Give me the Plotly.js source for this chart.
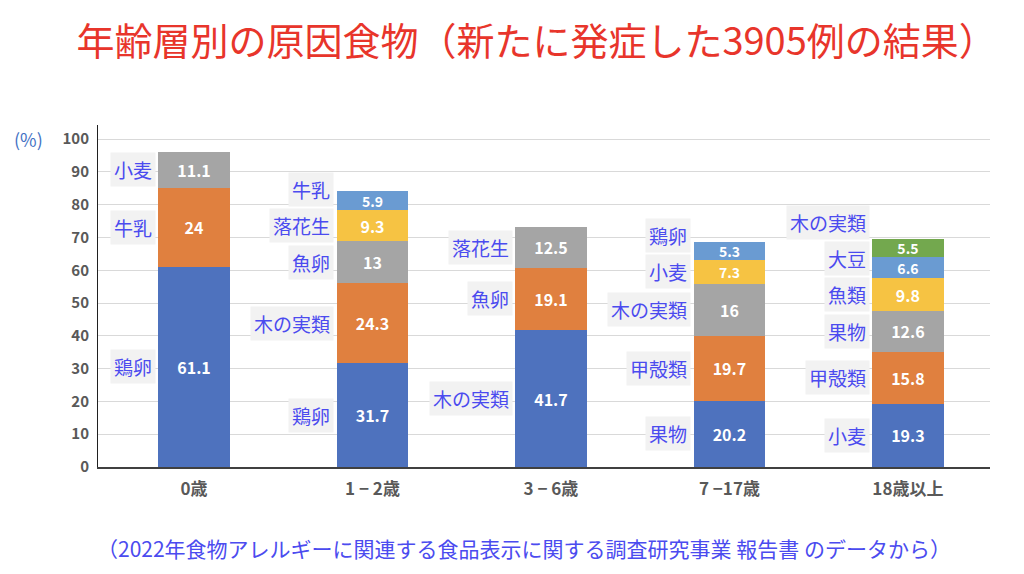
<!DOCTYPE html>
<html><head><meta charset="utf-8">
<script src="https://cdn.plot.ly/plotly-3.0.1.min.js"></script>
<style>html,body{margin:0;padding:0;background:#fff;}#chart{width:1024px;height:574px;}</style>
</head><body><div id="chart"></div>
<script>
const categories = ['0歳', '1 − 2歳', '3 − 6歳', '7 −17歳', '18歳以上'];

const layer1 = [61.1, 31.7, 41.7, 20.2, 19.3];
const foods1 = ['鶏卵', '鶏卵', '木の実類', '果物', '小麦'];
const layer2 = [24, 24.3, 19.1, 19.7, 15.8];
const foods2 = ['牛乳', '木の実類', '魚卵', '甲殻類', '甲殻類'];
const layer3 = [11.1, 13, 12.5, 16, 12.6];
const foods3 = ['小麦', '魚卵', '落花生', '木の実類', '果物'];
const layer4 = [null, 9.3, null, 7.3, 9.8];
const foods4 = [null, '落花生', null, '小麦', '魚類'];
const layer5 = [null, 5.9, null, 5.3, 6.6];
const foods5 = [null, '牛乳', null, '鶏卵', '大豆'];
const layer6 = [null, null, null, null, 5.5];
const foods6 = [null, null, null, null, '木の実類'];

const layers = [layer1, layer2, layer3, layer4, layer5, layer6];
const foods = [foods1, foods2, foods3, foods4, foods5, foods6];
const colors = ['#4e72be', '#e0803f', '#a5a5a5', '#f6c343', '#6a9bd2', '#73a84e'];

const FONT = '"Noto Sans CJK JP", "Noto Sans", sans-serif';

const traces = layers.map((vals, k) => ({
  type: 'bar',
  x: categories,
  y: vals,
  width: 0.4,
  marker: {color: colors[k], line: {width: 0}},
  text: vals.map(v => v == null ? '' : String(v)),
  textposition: 'inside',
  insidetextanchor: 'middle',
  constraintext: 'none',
  cliponaxis: false,
  textfont: {family: FONT, size: vals.map(v => (v != null && v < 8) ? 14 : 16), color: '#ffffff', weight: 'bold'},
  hoverinfo: 'skip',
  showlegend: false
}));

// food-name labels to the left of each segment
const annotations = [];
const minGap = 11;
categories.forEach((c, i) => {
  let base = 0, prev = -Infinity;
  layers.forEach((vals, k) => {
    const v = vals[i];
    if (v == null) return;
    let y = base + v / 2;
    if (y < prev + minGap) y = prev + minGap;
    prev = y;
    base += v;
    annotations.push({
      x: i - 0.215, xref: 'x', y: y, yref: 'y',
      xanchor: 'right', yanchor: 'middle',
      text: foods[k][i], showarrow: false,
      bgcolor: '#f2f2f2', borderpad: 3,
      font: {family: FONT, size: 19, color: '#4b4bef'}
    });
  });
});

annotations.push({
  x: 0, xref: 'paper', xshift: -70, y: 100, yref: 'y',
  xanchor: 'center', yanchor: 'middle', showarrow: false,
  text: '(%)', font: {family: FONT, size: 18, color: '#4472c4'}
});
annotations.push({
  x: 0.478, xref: 'paper', y: -0.237, yref: 'paper',
  xanchor: 'center', yanchor: 'middle', showarrow: false,
  text: '（2022年食物アレルギーに関連する食品表示に関する調査研究事業 報告書 のデータから）',
  font: {family: FONT, size: 21, color: '#4b4bef'}
});

const layout = {
  width: 1024, height: 574,
  margin: {l: 98, r: 34, t: 125, b: 107},
  paper_bgcolor: '#ffffff', plot_bgcolor: '#ffffff',
  barmode: 'stack',
  title: {
    text: '年齢層別の原因食物（新たに発症した3905例の結果）',
    x: 0.524, xanchor: 'center', y: 1 - 42 / 574, yanchor: 'middle', yref: 'container',
    font: {family: FONT, size: 38, color: '#e8352b'}
  },
  xaxis: {
    type: 'category', range: [-0.538, 4.46],
    showline: true, linecolor: '#404040', linewidth: 1.5,
    showgrid: false, ticks: '', ticklen: 0, ticklabelstandoff: 6,
    tickfont: {family: FONT, size: 17, color: '#595959', weight: 'bold'},
    fixedrange: true
  },
  yaxis: {
    range: [0, 104.3], tickvals: [0,10,20,30,40,50,60,70,80,90,100],
    showline: true, linecolor: '#202020', linewidth: 1,
    showgrid: true, gridcolor: '#d9d9d9', gridwidth: 1,
    zeroline: false, ticks: '', ticklen: 0, ticklabelstandoff: 5,
    tickfont: {family: FONT, size: 15, color: '#595959', weight: 'bold'},
    fixedrange: true
  },
  annotations: annotations,
  showlegend: false
};

Plotly.newPlot('chart', traces, layout, {displayModeBar: false, staticPlot: true});
</script>
</body></html>
